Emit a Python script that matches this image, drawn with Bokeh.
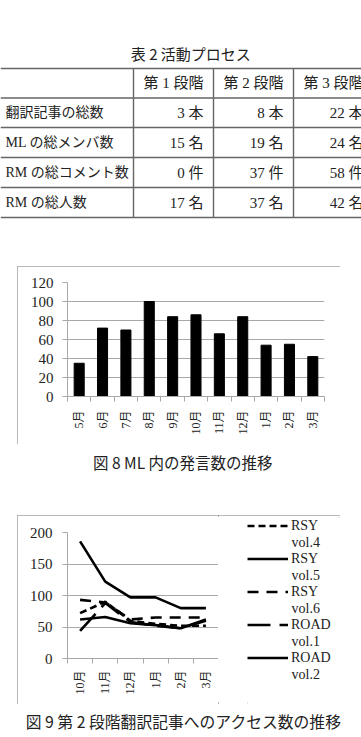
import math
from bokeh.plotting import figure
from bokeh.layouts import column, row
from bokeh.models import Range1d, FixedTicker, Legend, LegendItem
from bokeh.core.properties import value
from bokeh.embed import file_html
from bokeh.resources import INLINE

# ---------------- data ----------------
table_title = "表 2  活動プロセス"
stages = ["第 1 段階", "第 2 段階", "第 3 段階"]
row_labels = ["翻訳記事の総数", "ML の総メンバ数", "RM の総コメント数", "RM の総人数"]
stage1 = ["3 本", "15 名", "0 件", "17 名"]
stage2 = ["8 本", "19 名", "37 件", "37 名"]
stage3 = ["22 本", "24 名", "58 件", "42 名"]

months8 = ["5月", "6月", "7月", "8月", "9月", "10月", "11月", "12月", "1月", "2月", "3月"]
posts8 = [35, 72, 70, 100, 84, 86, 66, 84, 54, 55, 42]
caption8 = "図 8  ML 内の発言数の推移"

months9 = ["10月", "11月", "12月", "1月", "2月", "3月"]
rsy_vol4 = [72, 90, 60, 55, 52, 52]
rsy_vol5 = [186, 122, 97, 97, 80, 80]
rsy_vol6 = [93, 89, 62, 65, 65, 65]
road_vol1 = [44, 88, 58, 52, 48, 60]
road_vol2 = [62, 66, 56, 53, 48, 62]
series_groups = ["RSY", "RSY", "RSY", "ROAD", "ROAD"]
series_vols = ["vol.4", "vol.5", "vol.6", "vol.1", "vol.2"]
caption9 = "図 9  第 2 段階翻訳記事へのアクセス数の推移"

# ---------------- styles ----------------
SERIF = "'Liberation Serif', 'Noto Sans CJK JP'"
SANS = "'Noto Sans CJK JP'"
TXT = "#222222"
GRID = "#a8a8a8"
BOX = {"outline": "2px solid #a0a0a0", "outline-offset": "-2px"}


def blank(w, h, left=0, top=0):
    f = figure(width=w, height=h, x_range=Range1d(0, w - left), y_range=Range1d(h - top, 0),
               x_axis_location=None, y_axis_location=None,
               min_border=0, min_border_left=left, min_border_right=0,
               min_border_top=top, min_border_bottom=0, frame_align=False,
               output_backend="svg", toolbar_location=None)
    f.grid.visible = False
    f.outline_line_color = None
    return f


# ---------------- table ----------------
ft = blank(361, 266)
row_edges = [68, 97.5, 127, 157, 187, 217]
col_edges = [0, 133, 213, 293, 373]
ft.segment(x0=0, x1=361, y0=row_edges, y1=row_edges, line_color="#666666", line_width=1.4)
ft.segment(x0=col_edges[1:4], x1=col_edges[1:4], y0=row_edges[0], y1=row_edges[-1],
           line_color="#666666", line_width=1.4)
ft.text(x=[192], y=[53], text=[table_title], text_font=value(SANS), text_font_size="15px",
        text_align="center", text_baseline="middle", text_color=TXT)
hdr_y = (row_edges[0] + row_edges[1]) / 2
ft.text(x=[(col_edges[i + 1] + col_edges[i + 2]) / 2 for i in range(3)], y=[hdr_y] * 3,
        text=stages, text_font=value(SERIF), text_font_size="15px",
        text_align="center", text_baseline="middle", text_color=TXT)
row_y = [(row_edges[i + 1] + row_edges[i + 2]) / 2 for i in range(4)]
ft.text(x=[5] * 4, y=row_y, text=row_labels, text_font=value(SERIF), text_font_size="14px",
        text_align="left", text_baseline="middle", text_color=TXT)
for ci, col in enumerate([stage1, stage2, stage3]):
    ft.text(x=[col_edges[ci + 2] - 10] * 4, y=row_y, text=col, text_font=value(SERIF),
            text_font_size="15px", text_align="right", text_baseline="middle", text_color=TXT)


def style_axes(p, nx, yticks, x_labels, x_standoff, y_standoff):
    centers = [i + 0.5 for i in range(nx)]
    p.xaxis.ticker = FixedTicker(ticks=centers, minor_ticks=list(range(nx + 1)))
    p.xaxis.major_label_overrides = {c: lab for c, lab in zip(centers, x_labels)}
    p.xaxis.major_label_orientation = math.pi / 2
    p.xaxis.major_tick_out = 0
    p.xaxis.major_tick_in = 0
    p.xaxis.minor_tick_out = 5
    p.xaxis.minor_tick_in = 0
    p.xaxis.minor_tick_line_color = GRID
    p.xaxis.major_label_standoff = x_standoff
    p.xaxis.major_label_text_font = SERIF
    p.xaxis.major_label_text_font_size = "12px"
    p.yaxis.ticker = FixedTicker(ticks=yticks)
    p.yaxis.major_tick_out = 5
    p.yaxis.major_tick_in = 0
    p.yaxis.minor_tick_line_color = None
    p.yaxis.major_tick_line_color = GRID
    p.yaxis.major_label_standoff = y_standoff
    p.yaxis.major_label_text_font = SERIF
    p.yaxis.major_label_text_font_size = "15px"
    for ax in (p.xaxis, p.yaxis):
        ax.axis_line_color = GRID
        ax.major_label_text_color = TXT
    p.xgrid.visible = False
    p.ygrid.grid_line_color = GRID
    p.ygrid.ticker = FixedTicker(ticks=yticks)
    p.outline_line_color = None


# ---------------- figure 8 ----------------
fb = figure(width=323, height=178, x_range=Range1d(0, len(months8)), y_range=Range1d(0, 120),
            output_backend="svg", toolbar_location=None, frame_align=False,
            min_border_left=50, min_border_right=16, min_border_top=16, min_border_bottom=48,
            margin=(0, 0, 0, 17))
fb.styles = BOX
fb.vbar(x=[i + 0.5 for i in range(len(months8))], top=posts8, width=0.43,
        fill_color="black", line_color="black")
style_axes(fb, len(months8), [0, 20, 40, 60, 80, 100, 120], months8, 9, 9)

fcap8 = blank(361, 71)
fcap8.text(x=[184], y=[17.7], text=[caption8], text_font=value(SANS), text_font_size="15.5px",
           text_align="center", text_baseline="middle", text_color=TXT)

# ---------------- figure 9 ----------------
fc = figure(width=201, height=189, x_range=Range1d(0, len(months9)), y_range=Range1d(0, 200),
            output_backend="svg", toolbar_location=None, frame_align=False,
            min_border_left=50, min_border_right=0, min_border_top=17, min_border_bottom=46)
x9 = [i + 0.5 for i in range(len(months9))]
dashes = ["7 4", "solid", "11 8", "23 9", "solid"]
series = [rsy_vol4, rsy_vol5, rsy_vol6, road_vol1, road_vol2]
for ys, dash in zip(series, dashes):
    fc.line(x=x9, y=ys, line_color="black", line_width=2.6, line_dash=dash)
style_axes(fc, len(months9), [0, 50, 100, 150, 200], months9, 7, 10)

# legend panel (key only) to the right of the plot, inside the same box;
# each key renderer holds a single point, so it draws nothing but its legend swatch
fl = blank(122, 189, left=29, top=2)
key_renderers = [fl.line(x=[x9[0]], y=[-ys[0]], line_color="black", line_width=2.6, line_dash=d)
                 for ys, d in zip(series, dashes)]
ITEM_H, GAP = 17, 16
legend = Legend(items=[LegendItem(label=n, renderers=[r]) for n, r in zip(series_groups, key_renderers)],
                location="top_left", spacing=GAP, padding=0, margin=0,
                glyph_width=41, glyph_height=ITEM_H, label_height=ITEM_H, label_standoff=3,
                label_text_font=SERIF, label_text_font_size="14px", label_text_color=TXT,
                border_line_color=None, background_fill_alpha=0)
fl.add_layout(legend)
# second line of each key label ("vol.N"), under the first one
fl.text(x=[44] * len(series_vols),
        y=[ITEM_H / 2 + 16.5 + i * (ITEM_H + GAP) for i in range(len(series_vols))],
        text=series_vols, text_font=value(SERIF), text_font_size="14px",
        text_align="left", text_baseline="middle", text_color=TXT)

box9 = row(fc, fl, spacing=0, margin=(0, 0, 0, 17))
box9.styles = BOX

fcap9 = blank(361, 33)
fcap9.text(x=[185], y=[16.7], text=[caption9], text_font=value(SANS), text_font_size="15.8px",
           text_align="center", text_baseline="middle", text_color=TXT)

layout = column(ft, fb, fcap8, box9, fcap9, spacing=0)
open("out.html", "w").write(file_html(layout, INLINE))
